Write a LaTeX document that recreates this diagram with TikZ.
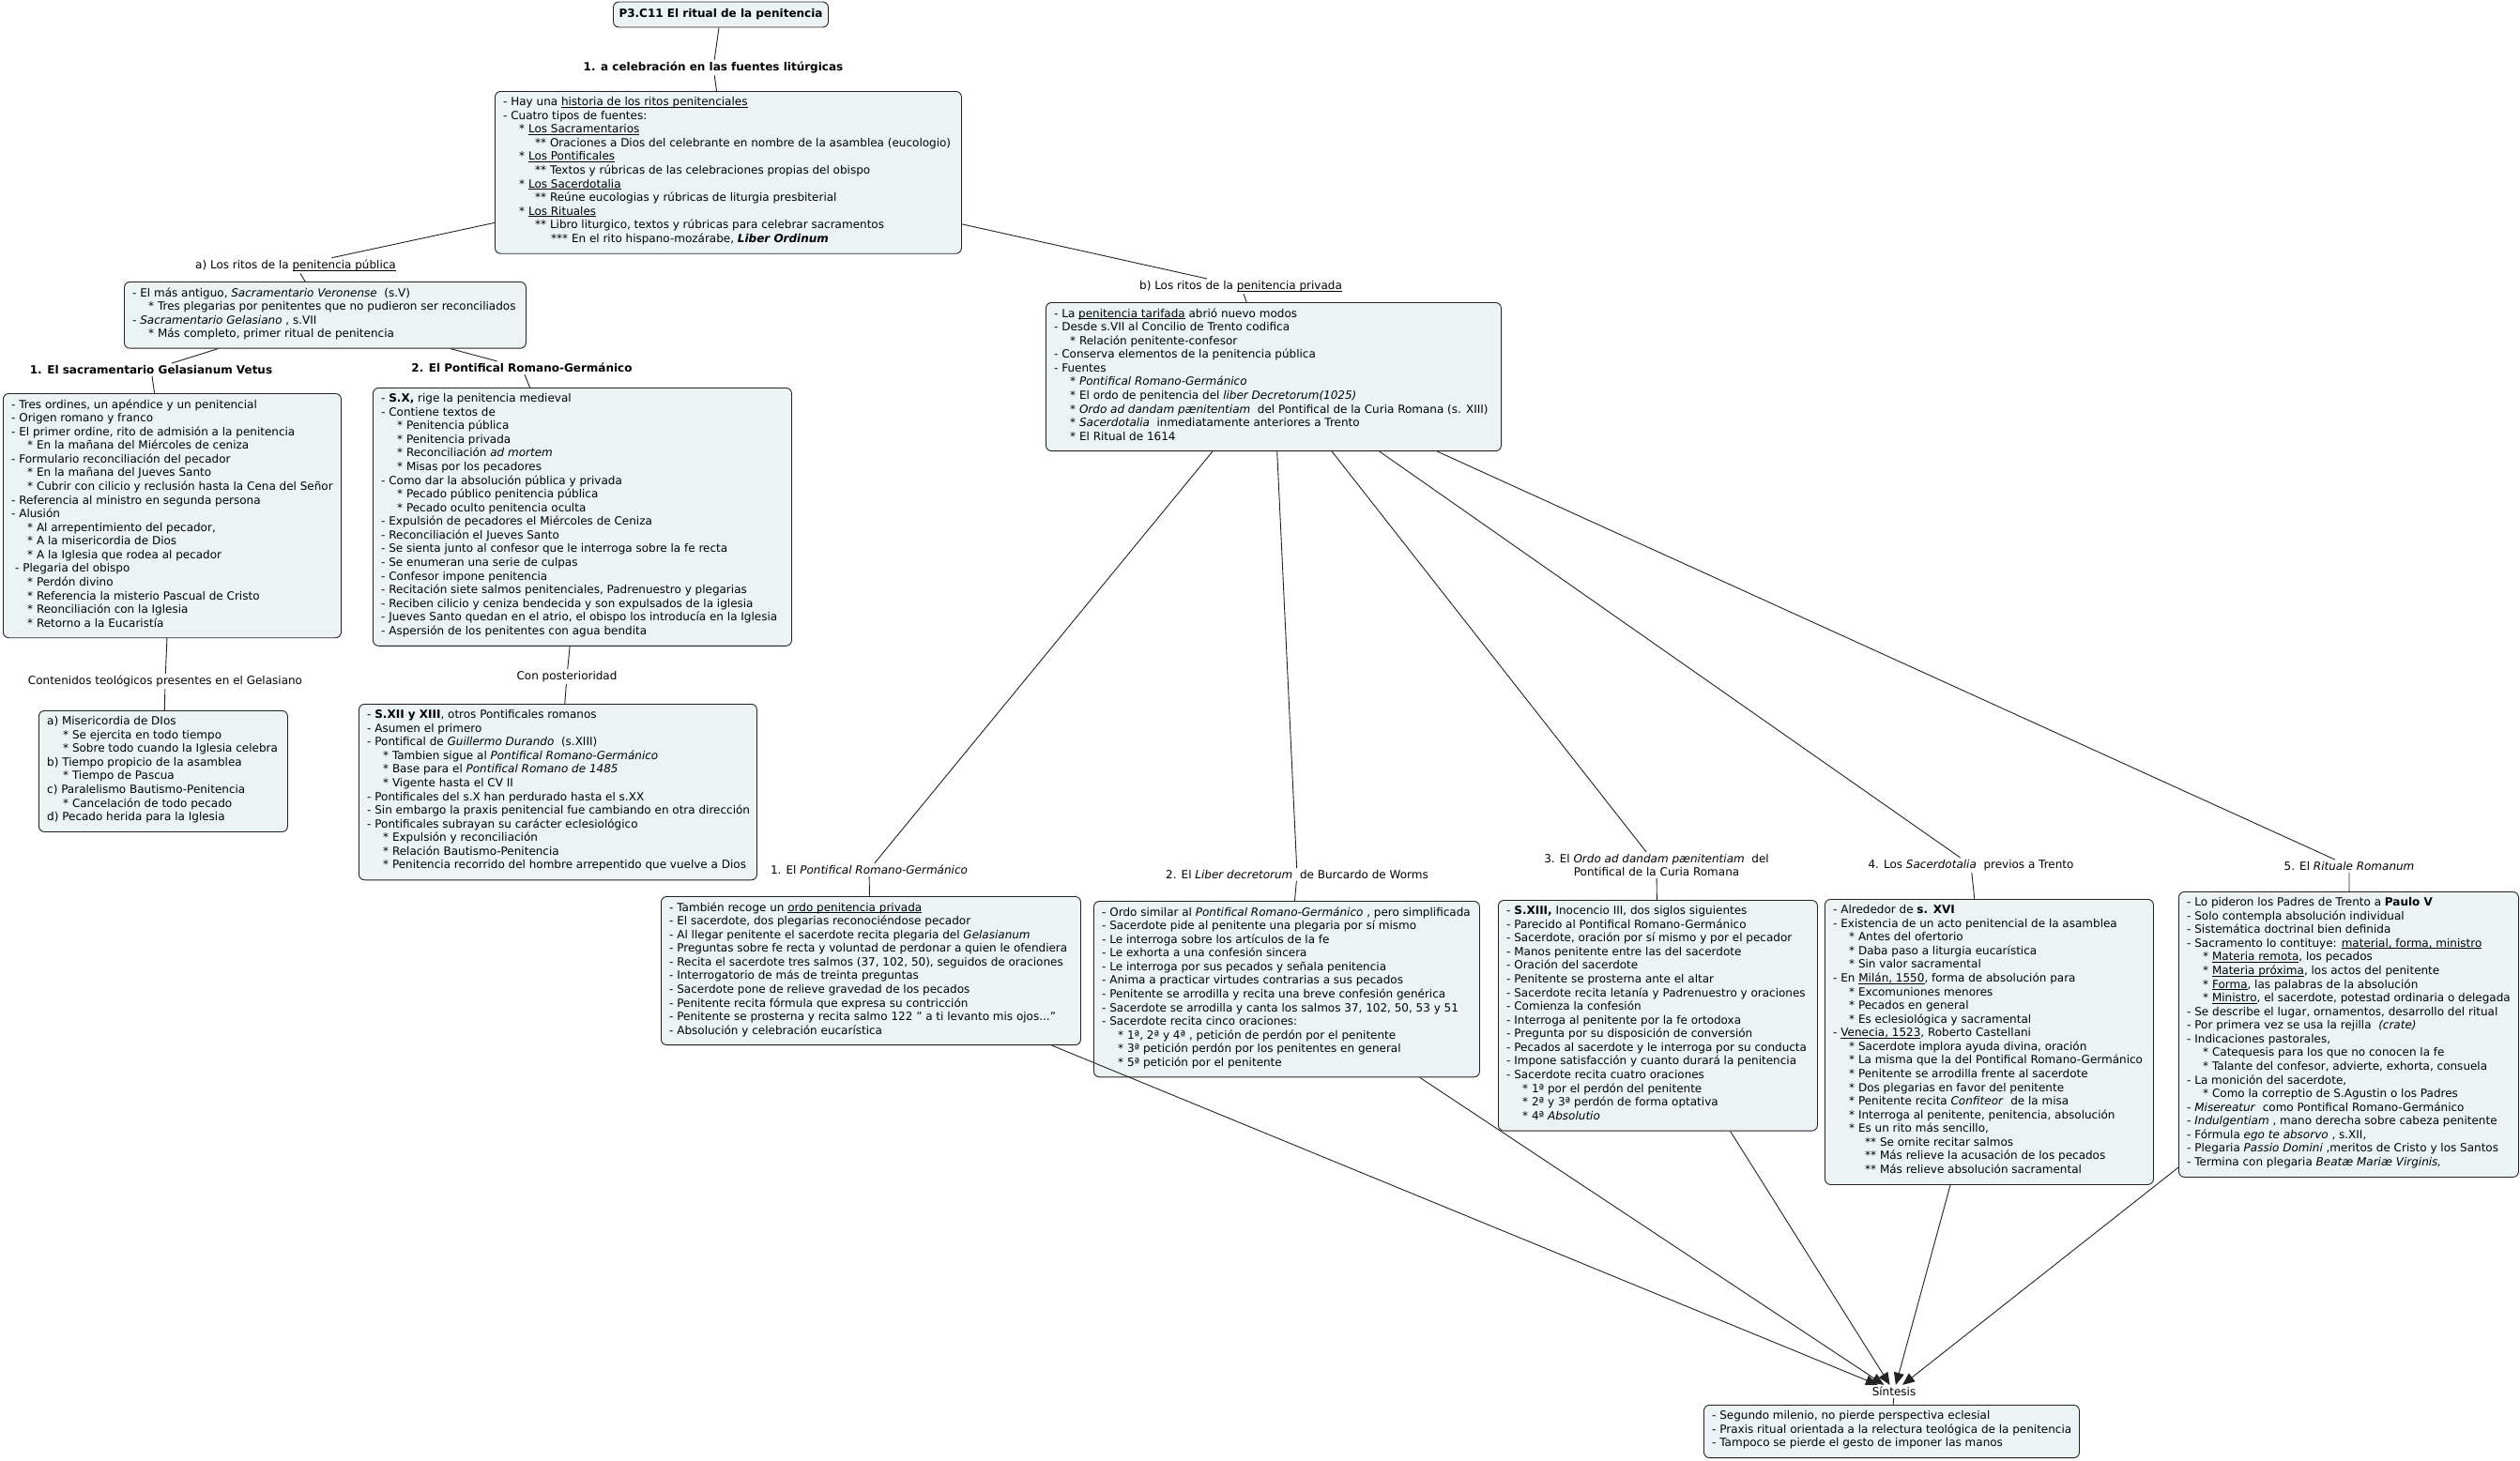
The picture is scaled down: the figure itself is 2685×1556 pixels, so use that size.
\documentclass[tikz,border=0pt]{standalone}
\usepackage{fontspec}
\setmainfont{DejaVu Sans}
\usetikzlibrary{arrows.meta}
\definecolor{boxfill}{RGB}{236,243,245}
\definecolor{edgecol}{RGB}{35,35,35}
\newcommand\fsz{\fontsize{12pt}{14.58pt}\selectfont}
\newcommand\indA{\hspace*{17pt}}
\newcommand\indB{\hspace*{34pt}}
\newcommand\indC{\hspace*{51pt}}
\newsavebox\ulbox
\newcommand\uln[1]{\sbox\ulbox{#1}\rlap{\rule[-1.8pt]{\wd\ulbox}{0.6pt}}\usebox\ulbox}
\tikzset{
  box/.style={draw=edgecol, fill=boxfill, rounded corners=6pt, line width=0.9pt, inner sep=0pt},
  txt/.style={anchor=north west, inner sep=0pt, align=left, font=\fsz,
              execute at begin node=\strut, execute at end node=\strut},
  lab/.style={inner sep=2pt, font=\fsz, align=center},
  blab/.style={lab, font=\fsz\bfseries},
  conn/.style={draw=edgecol, line width=0.9pt},
  arr/.style={conn, -{Triangle[length=13pt,width=11pt]}}
}
\newcommand\mkbox[6]{%
  \node[box, anchor=north west, minimum width=#4pt, minimum height={12.4pt+#5*14.58pt}] (#1) at (#2,#3) {};
  \node[txt] (#1t) at ([xshift=9pt,yshift=-6.2pt]#1.north west) {#6};}
\begin{document}
\begin{tikzpicture}[x=1pt,y=-1pt]
\path[use as bounding box, fill=white] (0,0) rectangle (2685,1556);

% title and first level
\node[box, minimum width=229pt, minimum height=27pt, font=\fsz\bfseries] (title) at (768,15.5) {P3.C11 El ritual de la penitencia};
\node[blab] (L1) at (760,72) {1. a celebración en las fuentes litúrgicas};

\mkbox{b1}{527}{97}{497}{11}{%
- Hay una \uln{historia de los ritos penitenciales}\\
- Cuatro tipos de fuentes:\\
\indA * \uln{Los Sacramentarios}\\
\indB ** Oraciones a Dios del celebrante en nombre de la asamblea (eucologio)\\
\indA * \uln{Los Pontificales}\\
\indB ** Textos y rúbricas de las celebraciones propias del obispo\\
\indA * \uln{Los Sacerdotalia}\\
\indB ** Reúne eucologias y rúbricas de liturgia presbiterial\\
\indA * \uln{Los Rituales}\\
\indB ** Libro liturgico, textos y rúbricas para celebrar sacramentos\\
\indC *** En el rito hispano-mozárabe, \textbf{\textit{Liber Ordinum}}}

% a) public penance
\node[lab] (La) at (315,283) {a) Los ritos de la \uln{penitencia pública}};
\mkbox{bA}{132}{300}{428}{4}{%
- El más antiguo, \textit{Sacramentario Veronense} \ (s.V)\\
\indA * Tres plegarias por penitentes que no pudieron ser reconciliados\\
- \textit{Sacramentario Gelasiano} , s.VII\\
\indA * Más completo, primer ritual de penitencia}

\node[blab] (LG) at (161,394) {1. El sacramentario Gelasianum Vetus};
\mkbox{bG}{3}{419}{360}{17}{%
- Tres ordines, un apéndice y un penitencial\\
- Origen romano y franco\\
- El primer ordine, rito de admisión a la penitencia\\
\indA * En la mañana del Miércoles de ceniza\\
- Formulario reconciliación del pecador\\
\indA * En la mañana del Jueves Santo\\
\indA * Cubrir con cilicio y reclusión hasta la Cena del Señor\\
- Referencia al ministro en segunda persona\\
- Alusión\\
\indA * Al arrepentimiento del pecador,\\
\indA * A la misericordia de Dios\\
\indA * A la Iglesia que rodea al pecador\\
\hspace*{4pt}- Plegaria del obispo\\
\indA * Perdón divino\\
\indA * Referencia la misterio Pascual de Cristo\\
\indA * Reonciliación con la Iglesia\\
\indA * Retorno a la Eucaristía}

\node[lab] (LC) at (176,726) {Contenidos teológicos presentes en el Gelasiano};
\mkbox{bC}{41}{757}{265}{8}{%
a) Misericordia de DIos\\
\indA * Se ejercita en todo tiempo\\
\indA * Sobre todo cuando la Iglesia celebra\\
b) Tiempo propicio de la asamblea\\
\indA * Tiempo de Pascua\\
c) Paralelismo Bautismo-Penitencia\\
\indA * Cancelación de todo pecado\\
d) Pecado herida para la Iglesia}

\node[blab] (L2) at (556,392) {2. El Pontifical Romano-Germánico};
\mkbox{bP}{397}{413}{446}{18}{%
- \textbf{S.X,} rige la penitencia medieval\\
- Contiene textos de\\
\indA * Penitencia pública\\
\indA * Penitencia privada\\
\indA * Reconciliación \textit{ad mortem}\\
\indA * Misas por los pecadores\\
- Como dar la absolución pública y privada\\
\indA * Pecado público penitencia pública\\
\indA * Pecado oculto penitencia oculta\\
- Expulsión de pecadores el Miércoles de Ceniza\\
- Reconciliación el Jueves Santo\\
- Se sienta junto al confesor que le interroga sobre la fe recta\\
- Se enumeran una serie de culpas\\
- Confesor impone penitencia\\
- Recitación siete salmos penitenciales, Padrenuestro y plegarias\\
- Reciben cilicio y ceniza bendecida y son expulsados de la iglesia\\
- Jueves Santo quedan en el atrio, el obispo los introducía en la Iglesia\\
- Aspersión de los penitentes con agua bendita}

\node[lab] (LCP) at (604,721) {Con posterioridad};
\mkbox{bS}{382}{750}{424}{12}{%
- \textbf{S.XII y XIII}, otros Pontificales romanos\\
- Asumen el primero\\
- Pontifical de \textit{Guillermo Durando} \ (s.XIII)\\
\indA * Tambien sigue al \textit{Pontifical Romano-Germánico}\\
\indA * Base para el \textit{Pontifical Romano de 1485}\\
\indA * Vigente hasta el CV II\\
- Pontificales del s.X han perdurado hasta el s.XX\\
- Sin embargo la praxis penitencial fue cambiando en otra dirección\\
- Pontificales subrayan su carácter eclesiológico\\
\indA * Expulsión y reconciliación\\
\indA * Relación Bautismo-Penitencia\\
\indA * Penitencia recorrido del hombre arrepentido que vuelve a Dios}

% b) private penance
\node[lab] (Lb) at (1322,305) {b) Los ritos de la \uln{penitencia privada}};
\mkbox{bB}{1114}{322}{485}{10}{%
- La \uln{penitencia tarifada} abrió nuevo modos\\
- Desde s.VII al Concilio de Trento codifica\\
\indA * Relación penitente-confesor\\
- Conserva elementos de la penitencia pública\\
- Fuentes\\
\indA * \textit{Pontifical Romano-Germánico}\\
\indA * El ordo de penitencia del \textit{liber Decretorum(1025)}\\
\indA * \textit{Ordo ad dandam pænitentiam} \ del Pontifical de la Curia Romana (s. XIII)\\
\indA * \textit{Sacerdotalia} \ inmediatamente anteriores a Trento\\
\indA * El Ritual de 1614}

\node[lab] (Lb1) at (926,927) {1. El \textit{Pontifical Romano-Germánico}};
\mkbox{q1}{704}{955}{447}{10}{%
- También recoge un \uln{ordo penitencia privada}\\
- El sacerdote, dos plegarias reconociéndose pecador\\
- Al llegar penitente el sacerdote recita plegaria del \textit{Gelasianum}\\
- Preguntas sobre fe recta y voluntad de perdonar a quien le ofendiera\\
- Recita el sacerdote tres salmos (37, 102, 50), seguidos de oraciones\\
- Interrogatorio de más de treinta preguntas\\
- Sacerdote pone de relieve gravedad de los pecados\\
- Penitente recita fórmula que expresa su contricción\\
- Penitente se prosterna y recita salmo 122 " a ti levanto mis ojos..."\\
- Absolución y celebración eucarística}

\node[lab] (Lb2) at (1382,932) {2. El \textit{Liber decretorum} \ de Burcardo de Worms};
\mkbox{q2}{1165}{960}{411}{12}{%
- Ordo similar al \textit{Pontifical Romano-Germánico} , pero simplificada\\
- Sacerdote pide al penitente una plegaria por sí mismo\\
- Le interroga sobre los artículos de la fe\\
- Le exhorta a una confesión sincera\\
- Le interroga por sus pecados y señala penitencia\\
- Anima a practicar virtudes contrarias a sus pecados\\
- Penitente se arrodilla y recita una breve confesión genérica\\
- Sacerdote se arrodilla y canta los salmos 37, 102, 50, 53 y 51\\
- Sacerdote recita cinco oraciones:\\
\indA * 1ª, 2ª y 4ª , petición de perdón por el penitente\\
\indA * 3ª petición perdón por los penitentes en general\\
\indA * 5ª petición por el penitente}

\node[lab] (Lb3) at (1765,922) {3. El \textit{Ordo ad dandam pænitentiam} \ del\\Pontifical de la Curia Romana};
\mkbox{q3}{1596}{959}{340}{16}{%
- \textbf{S.XIII,} Inocencio III, dos siglos siguientes\\
- Parecido al Pontifical Romano-Germánico\\
- Sacerdote, oración por sí mismo y por el pecador\\
- Manos penitente entre las del sacerdote\\
- Oración del sacerdote\\
- Penitente se prosterna ante el altar\\
- Sacerdote recita letanía y Padrenuestro y oraciones\\
- Comienza la confesión\\
- Interroga al penitente por la fe ortodoxa\\
- Pregunta por su disposición de conversión\\
- Pecados al sacerdote y le interroga por su conducta\\
- Impone satisfacción y cuanto durará la penitencia\\
- Sacerdote recita cuatro oraciones\\
\indA * 1ª por el perdón del penitente\\
\indA * 2ª y 3ª perdón de forma optativa\\
\indA * 4ª \textit{Absolutio}}

\node[lab] (Lb4) at (2100,922) {4. Los \textit{Sacerdotalia} \ previos a Trento};
\mkbox{q4}{1944}{958}{350}{20}{%
- Alrededor de \textbf{s. XVI}\\
- Existencia de un acto penitencial de la asamblea\\
\indA * Antes del ofertorio\\
\indA * Daba paso a liturgia eucarística\\
\indA * Sin valor sacramental\\
- En \uln{Milán, 1550}, forma de absolución para\\
\indA * Excomuniones menores\\
\indA * Pecados en general\\
\indA * Es eclesiológica y sacramental\\
- \uln{Venecia, 1523}, Roberto Castellani\\
\indA * Sacerdote implora ayuda divina, oración\\
\indA * La misma que la del Pontifical Romano-Germánico\\
\indA * Penitente se arrodilla frente al sacerdote\\
\indA * Dos plegarias en favor del penitente\\
\indA * Penitente recita \textit{Confiteor} \ de la misa\\
\indA * Interroga al penitente, penitencia, absolución\\
\indA * Es un rito más sencillo,\\
\indB ** Se omite recitar salmos\\
\indB ** Más relieve la acusación de los pecados\\
\indB ** Más relieve absolución sacramental}

\node[lab] (Lb5) at (2503,923) {5. El \textit{Rituale Romanum}};
\mkbox{q5}{2321}{950}{362}{20}{%
- Lo pideron los Padres de Trento a \textbf{Paulo V}\\
- Solo contempla absolución individual\\
- Sistemática doctrinal bien definida\\
- Sacramento lo contituye: \uln{material, forma, ministro}\\
\indA * \uln{Materia remota}, los pecados\\
\indA * \uln{Materia próxima}, los actos del penitente\\
\indA * \uln{Forma}, las palabras de la absolución\\
\indA * \uln{Ministro}, el sacerdote, potestad ordinaria o delegada\\
- Se describe el lugar, ornamentos, desarrollo del ritual\\
- Por primera vez se usa la rejilla \ \textit{(crate)}\\
- Indicaciones pastorales,\\
\indA * Catequesis para los que no conocen la fe\\
\indA * Talante del confesor, advierte, exhorta, consuela\\
- La monición del sacerdote,\\
\indA * Como la correptio de S.Agustin o los Padres\\
- \textit{Misereatur} \ como Pontifical Romano-Germánico\\
- \textit{Indulgentiam} , mano derecha sobre cabeza penitente\\
- Fórmula \textit{ego te absorvo} , s.XII,\\
- Plegaria \textit{Passio Domini} ,meritos de Cristo y los Santos\\
- Termina con plegaria \textit{Beatæ Mariæ Virginis,}}

% synthesis
\node[lab] (Lsyn) at (2018,1483) {Síntesis};
\mkbox{bsyn}{1815}{1497}{400}{3}{%
- Segundo milenio, no pierde perspectiva eclesial\\
- Praxis ritual orientada a la relectura teológica de la penitencia\\
- Tampoco se pierde el gesto de imponer las manos}

% connectors
\draw[conn] (title) -- (L1);
\draw[conn] (L1) -- (b1);
\draw[conn] (b1) -- (La);
\draw[conn] (La) -- (bA);
\draw[conn] (bA) -- (LG);
\draw[conn] (LG) -- (bG);
\draw[conn] (bG) -- (LC);
\draw[conn] (LC) -- (bC);
\draw[conn] (bA) -- (L2);
\draw[conn] (L2) -- (bP);
\draw[conn] (bP) -- (LCP);
\draw[conn] (LCP) -- (bS);
\draw[conn] (b1) -- (Lb);
\draw[conn] (Lb) -- (bB);
\draw[conn] (bB) -- (Lb1);
\draw[conn] (bB) -- (Lb2);
\draw[conn] (bB) -- (Lb3);
\draw[conn] (bB) -- (Lb4);
\draw[conn] (bB) -- (Lb5);
\draw[conn] (Lb1) -- (q1);
\draw[conn] (Lb2) -- (q2);
\draw[conn] (Lb3) -- (q3);
\draw[conn] (Lb4) -- (q4);
\draw[conn] (Lb5) -- (q5);
\draw[arr] (q1) -- (Lsyn);
\draw[arr] (q2) -- (Lsyn);
\draw[arr] (q3) -- (Lsyn);
\draw[arr] (q4) -- (Lsyn);
\draw[arr] (q5) -- (Lsyn);
\draw[conn] (Lsyn) -- (bsyn);
\end{tikzpicture}
\end{document}
